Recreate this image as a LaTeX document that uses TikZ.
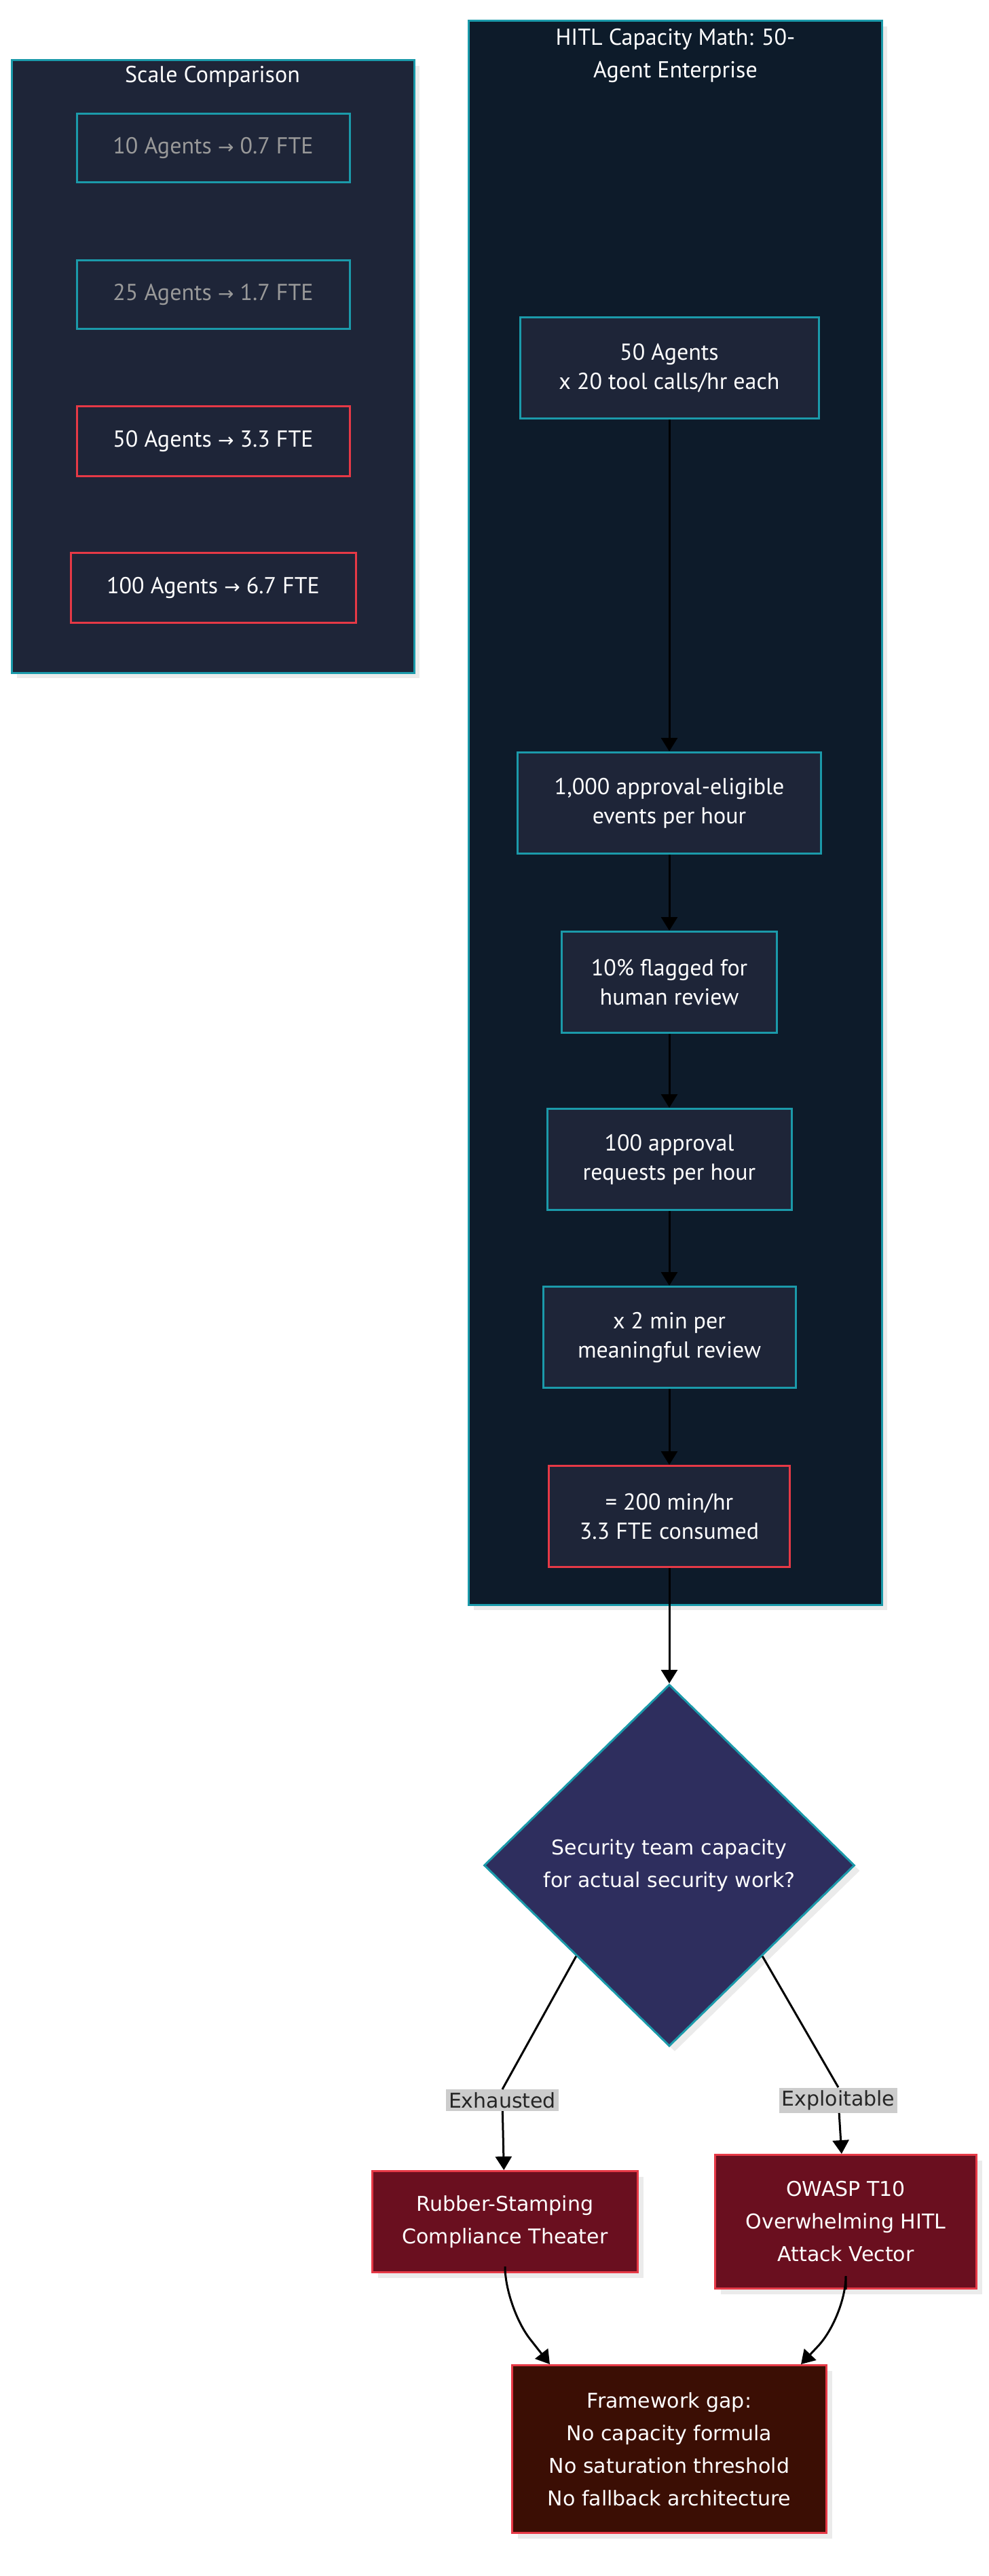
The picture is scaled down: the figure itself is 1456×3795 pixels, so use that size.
\documentclass[tikz,border=0pt]{standalone}
\usepackage{fontspec}
\setmainfont{PT Sans}
\newfontfamily\wide{DejaVu Sans}
\usetikzlibrary{shapes.geometric,arrows.meta,calc,shadows}
\definecolor{teal}{HTML}{1B9AAA}
\definecolor{redb}{HTML}{E63946}
\definecolor{grpfill}{HTML}{1E2538}
\definecolor{hitlfill}{HTML}{0D1B2A}
\definecolor{nodefill}{HTML}{1E2538}
\definecolor{diafill}{HTML}{2E2E5E}
\definecolor{redfill}{HTML}{6A0F1F}
\definecolor{fwfill}{HTML}{3B0E04}
\newcommand{\ar}{{\wide\fontsize{14}{16}\selectfont →}}
\begin{document}
\begin{tikzpicture}[x=0.5pt,y=-0.5pt,
  shad/.style={drop shadow={shadow xshift=4pt,shadow yshift=-4pt,fill=black!8,opacity=1}},
  box/.style={draw=teal,line width=1.5pt,fill=nodefill,text=white,font=\fontsize{17}{21.5}\selectfont,align=center,minimum height=74.5pt},
  sbox/.style={box,minimum width=201pt,minimum height=50.5pt},
  rbox/.style={draw=redb,line width=1.5pt,fill=redfill,text=white,font=\wide\fontsize{15}{24}\selectfont,align=center,shad},
  lbl/.style={fill=black!20,text=black!85,font=\wide\fontsize{15}{17}\selectfont,inner sep=2pt},
  arr/.style={line width=1.5pt,-{Triangle[length=10pt,width=12pt]}},
  grp/.style={draw=teal,line width=1.5pt,shad}]
\useasboundingbox (0,0) rectangle (1456,3795);
% groups
\draw[grp,fill=grpfill] (17,89) rectangle (610,991);
\node[text=white,font=\fontsize{17}{21.5}\selectfont] (stitle) at (313,113) {Scale Comparison};
\draw[grp,fill=hitlfill] (690,31) rectangle (1299,2364);
\node[text=white,font=\fontsize{17}{24}\selectfont,align=center] (htitle) at (995,82) {HITL Capacity Math: 50-\\Agent Enterprise};
% scale nodes
\node[sbox,text=black!40] (s10) at (314,218) {10 Agents \ar{} 0.7 FTE};
\node[sbox,text=black!40] (s25) at (314,434) {25 Agents \ar{} 1.7 FTE};
\node[sbox,draw=redb,minimum height=51.5pt] (s50) at (314,650) {50 Agents \ar{} 3.3 FTE};
\node[sbox,draw=redb,minimum width=210pt,minimum height=51.5pt] (s100) at (314,866) {100 Agents \ar{} 6.7 FTE};
% flow
\node[box,minimum width=220pt] (a) at (986,542) {50 Agents\\x 20 tool calls/hr each};
\node[box,minimum width=223.5pt] (b) at (986,1183) {1,000 approval-eligible\\events per hour};
\node[box,minimum width=158.5pt] (c) at (986,1447) {10\% flagged for\\human review};
\node[box,minimum width=180pt] (d) at (986,1708) {100 approval\\requests per hour};
\node[box,minimum width=186pt] (e) at (986,1970) {x 2 min per\\meaningful review};
\node[box,draw=redb,minimum width=177.5pt] (f) at (986,2234) {= 200 min/hr\\3.3 FTE consumed};
\node[diamond,draw=teal,line width=1.5pt,fill=diafill,text=white,shad,aspect=1.02,minimum width=273pt,minimum height=266.5pt,inner sep=0pt,align=center,font=\wide\fontsize{15}{24}\selectfont] (dia) at (986,2748) {Security team capacity\\for actual security work?};
\node[lbl] (ex) at (740,3094) {Exhausted};
\node[lbl] (xp) at (1235,3094) {Exploitable};
\node[rbox,minimum width=195.5pt,minimum height=74.5pt] (rub) at (744,3273) {Rubber-Stamping\\Compliance Theater};
\node[rbox,minimum width=192.5pt,minimum height=98.5pt] (ow) at (1246,3273) {OWASP T10\\Overwhelming HITL\\Attack Vector};
\node[rbox,fill=fwfill,minimum width=231.5pt,minimum height=123.5pt] (fw) at (986,3608) {Framework gap:\\No capacity formula\\No saturation threshold\\No fallback architecture};
% connectors
\draw[arr] (a) -- (b);
\draw[arr] (b) -- (c);
\draw[arr] (c) -- (d);
\draw[arr] (d) -- (e);
\draw[arr] (e) -- (f);
\draw[arr] (f) -- (dia);
\draw[line width=1.5pt] (dia.south west) -- (ex.north);
\draw[line width=1.5pt] (dia.south east) -- (xp.north);
\draw[arr] (ex) -- (rub);
\draw[arr] (xp) -- (ow);
\coordinate (fl) at ($(fw.north)+(-176,0)$);
\coordinate (fr) at ($(fw.north)+(194,0)$);
\draw[arr,rounded corners=30pt] (rub.south) -- ++(0,50) -- (fl);
\draw[arr,rounded corners=30pt] (ow.south) -- ++(0,40) -- (fr);
\end{tikzpicture}
\end{document}
